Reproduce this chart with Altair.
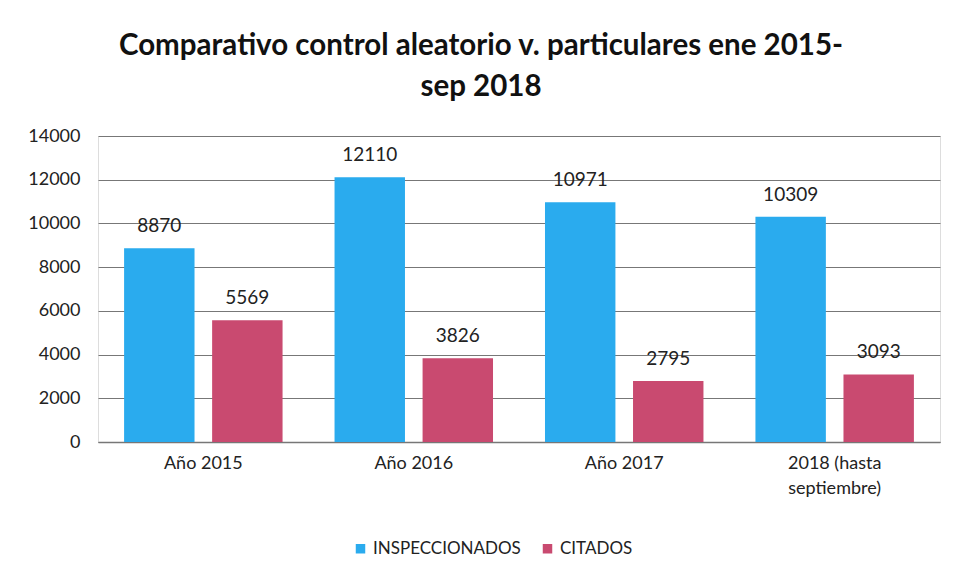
import altair as alt
import pandas as pd

categories = ["Año 2015", "Año 2016", "Año 2017", "2018 (hasta\nseptiembre)"]
inspeccionados = [8870, 12110, 10971, 10309]
citados = [5569, 3826, 2795, 3093]
series = ["INSPECCIONADOS", "CITADOS"]
colors = ["#2AABEE", "#C94A70"]

rows = []
for c, a, b in zip(categories, inspeccionados, citados):
    rows.append({"cat": c, "serie": series[0], "valor": a})
    rows.append({"cat": c, "serie": series[1], "valor": b})
df = pd.DataFrame(rows)

FONT = "Lato"

x = alt.X("cat:N", sort=categories, title=None,
          scale=alt.Scale(paddingInner=0.247, paddingOuter=0.124),
          axis=alt.Axis(labelAngle=0, labelFontSize=18, labelColor="#222",
                        labelFont=FONT, labelPadding=12, ticks=False,
                        domainColor="#777", domainWidth=1.5,
                        labelExpr="split(datum.label, '\\n')", labelLineHeight=25))
xo = alt.XOffset("serie:N", sort=series, scale=alt.Scale(paddingInner=0.2, paddingOuter=0))
y = alt.Y("valor:Q", title=None,
          scale=alt.Scale(domain=[0, 14000]),
          axis=alt.Axis(values=list(range(0, 14001, 2000)), format="d", labelFontSize=18,
                        labelColor="#222", labelFont=FONT, ticks=False, domain=False,
                        gridColor="#777", gridWidth=1, labelPadding=18))
color = alt.Color("serie:N", sort=series,
                  scale=alt.Scale(domain=series, range=colors),
                  legend=alt.Legend(title=None, orient="none", direction="horizontal",
                                    legendX=254, legendY=404, symbolType="square",
                                    symbolSize=90, labelFontSize=17, labelFont=FONT,
                                    labelColor="#222", columnPadding=18, symbolStrokeWidth=0))

base = alt.Chart(df)
bars = base.mark_bar().encode(x=x, xOffset=xo, y=y, color=color)
labels = base.mark_text(baseline="bottom", dy=-12, fontSize=19, font=FONT, color="#222").encode(
    x=x, xOffset=xo, y=y, text=alt.Text("valor:Q", format="d"))

chart = (bars + labels).properties(
    width=842, height=306,
    autosize=alt.AutoSizeParams(type="none"),
    padding={"left": 90, "top": 128, "right": 15, "bottom": 135},
    title=alt.Title(["Comparativo control aleatorio v. particulares ene 2015-", "sep 2018"],
                    fontSize=29.5, font=FONT, fontWeight="bold", color="#111",
                    lineHeight=41, anchor="middle", dx=-38, offset=25),
).configure_view(stroke=None).configure(background="white")

chart.save("out.html", embed_options={"renderer": "svg", "actions": False})
